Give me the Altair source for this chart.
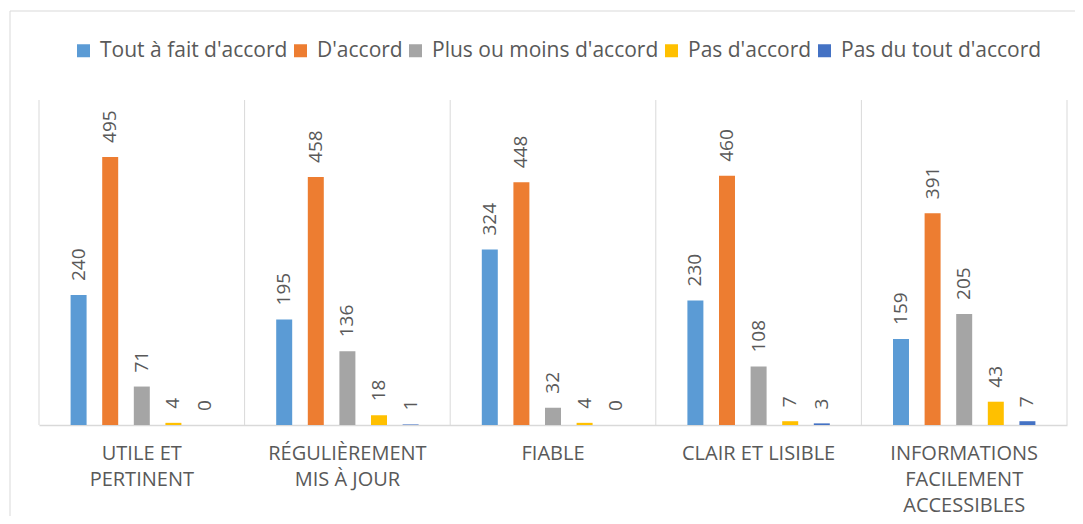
import altair as alt
import pandas as pd

categories = [
    "UTILE ET PERTINENT",
    "RÉGULIÈREMENT MIS À JOUR",
    "FIABLE",
    "CLAIR ET LISIBLE",
    "INFORMATIONS FACILEMENT ACCESSIBLES",
]
category_lines = [
    ["UTILE ET", "PERTINENT"],
    ["RÉGULIÈREMENT", "MIS À JOUR"],
    ["FIABLE"],
    ["CLAIR ET LISIBLE"],
    ["INFORMATIONS", "FACILEMENT", "ACCESSIBLES"],
]
series = [
    "Tout à fait d'accord",
    "D'accord",
    "Plus ou moins d'accord",
    "Pas d'accord",
    "Pas du tout d'accord",
]
colors = ["#5B9BD5", "#ED7D31", "#A5A5A5", "#FFC000", "#4472C4"]

tout_a_fait = [240, 195, 324, 230, 159]
d_accord = [495, 458, 448, 460, 391]
plus_ou_moins = [71, 136, 32, 108, 205]
pas_d_accord = [4, 18, 4, 7, 43]
pas_du_tout = [0, 1, 0, 3, 7]

values_by_series = [tout_a_fait, d_accord, plus_ou_moins, pas_d_accord, pas_du_tout]

rows = []
for s, vals in zip(series, values_by_series):
    for c, v in zip(categories, vals):
        rows.append({"categorie": c, "serie": s, "valeur": v})
df = pd.DataFrame(rows)

FONT = "Open Sans"
GREY_TXT = "#595959"
LINE = "#D9D9D9"

# multi-line label expression
expr = "datum.label"
for c, lines in reversed(list(zip(categories, category_lines))):
    arr = "[" + ", ".join("'" + l + "'" for l in lines) + "]"
    expr = f"datum.value == '{c}' ? {arr} : ({expr})"

x_axis = alt.Axis(
    title=None,
    labelExpr=expr,
    labelAngle=0,
    labelFont=FONT,
    labelFontSize=20,
    labelColor=GREY_TXT,
    labelLineHeight=26,
    labelPadding=18,
    labelLimit=400,
    labelOverlap=False,
    ticks=False,
    domainColor=LINE,
    domainWidth=1.5,
    grid=False,
)

x_scale = alt.Scale(paddingInner=0, paddingOuter=0)
x_enc = alt.X("categorie:N", sort=categories, scale=x_scale, axis=x_axis)
xo_enc = alt.XOffset(
    "serie:N",
    sort=series,
    scale=alt.Scale(paddingInner=0.494, paddingOuter=1),
)
y_enc = alt.Y("valeur:Q", scale=alt.Scale(domain=[0, 600]), axis=None)

frame = alt.Chart(pd.DataFrame({"cadre": [0]})).mark_rect(
    fillOpacity=0, stroke=LINE, strokeWidth=1
).encode(
    x=alt.value(-29), x2=alt.value(1300), y=alt.value(-89), y2=alt.value(800)
)

sep_df = pd.DataFrame({"categorie": categories})
sep_start = alt.Chart(sep_df).mark_rule(color=LINE, strokeWidth=1).encode(
    x=alt.X("categorie:N", sort=categories, bandPosition=0, axis=x_axis, scale=x_scale),
    y=alt.value(0),
    y2=alt.value(325),
)
sep_end = alt.Chart(pd.DataFrame({"categorie": [categories[-1]]})).mark_rule(
    color=LINE, strokeWidth=1
).encode(
    x=alt.X("categorie:N", sort=categories, bandPosition=1, axis=x_axis, scale=x_scale),
    y=alt.value(0),
    y2=alt.value(325),
)

bars = alt.Chart(df).mark_bar().encode(
    x=x_enc,
    xOffset=xo_enc,
    y=y_enc,
    color=alt.Color(
        "serie:N",
        sort=series,
        scale=alt.Scale(domain=series, range=colors),
        legend=alt.Legend(
            orient="none",
            legendX=34,
            legendY=-60,
            direction="horizontal",
            title=None,
            symbolType="square",
            symbolSize=169,
            symbolStrokeWidth=0,
            labelFont=FONT,
            labelFontSize=21,
            labelColor=GREY_TXT,
            labelOffset=6,
            columnPadding=2,
            labelLimit=400,
        ),
    ),
)

labels = alt.Chart(df).mark_text(
    angle=270, align="left", baseline="middle", dx=14,
    font=FONT, fontSize=19, color=GREY_TXT,
).encode(
    x=x_enc,
    xOffset=xo_enc,
    y=y_enc,
    text=alt.Text("valeur:Q"),
)

chart = (
    alt.layer(frame, sep_start, sep_end, bars, labels)
    .properties(
        width=1028,
        height=325,
        padding={"left": 31, "top": 92, "right": 8, "bottom": 91},
        autosize=alt.AutoSizeParams(type="none"),
        background="white",
    )
    .configure_view(stroke=None)
)

chart.save("out.html", embed_options={"renderer": "svg", "actions": False})
